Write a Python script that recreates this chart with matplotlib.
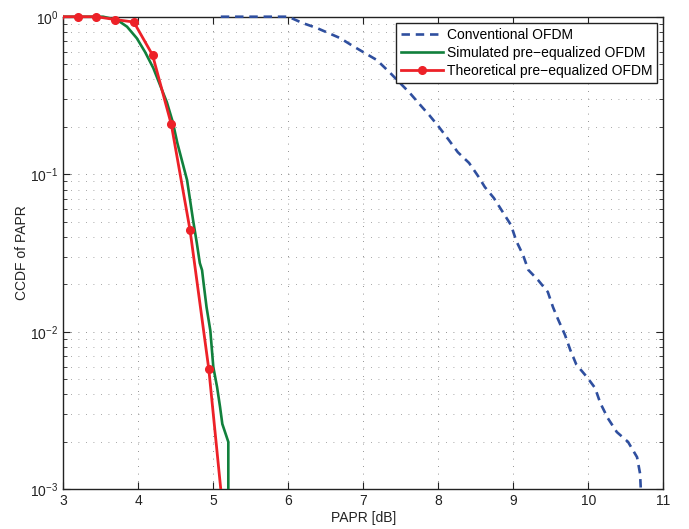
import matplotlib
matplotlib.use("Agg")
import matplotlib.pyplot as plt
from matplotlib.patches import Rectangle
from matplotlib.lines import Line2D
from matplotlib.ticker import LogLocator, NullFormatter, FixedLocator

plt.rcParams['font.family'] = ['Liberation Sans', 'DejaVu Sans']
plt.rcParams['mathtext.fontset'] = 'custom'
plt.rcParams['mathtext.rm'] = 'Liberation Sans'

# Conventional OFDM (dashed blue)
conv_x = [5.1, 6.0, 6.19, 6.38, 6.69, 6.86, 7.18, 7.36, 7.62, 7.76, 7.88, 8.0,
          8.14, 8.26, 8.41, 8.53, 8.62, 8.74, 8.86, 8.97, 9.04, 9.13, 9.20, 9.33,
          9.46, 9.53, 9.60, 9.69, 9.76, 9.84, 9.98, 10.09, 10.16, 10.26, 10.38,
          10.53, 10.65, 10.69, 10.70]
conv_y = [1.0, 1.0, 0.912, 0.848, 0.732, 0.652, 0.531, 0.439, 0.328, 0.275, 0.237,
          0.202, 0.165, 0.138, 0.118, 0.0974, 0.083, 0.0707, 0.0575, 0.0475,
          0.0377, 0.0307, 0.0247, 0.0213, 0.0179, 0.0143, 0.0119, 0.00953,
          0.00766, 0.0062, 0.00517, 0.0044, 0.00353, 0.00283, 0.00231, 0.002,
          0.0016, 0.00126, 0.001]

# Simulated pre-equalized OFDM (green)
sim_x = [3.0, 3.53, 3.72, 3.85, 3.98, 4.09, 4.20, 4.29, 4.38, 4.46, 4.52, 4.58,
         4.65, 4.69, 4.73, 4.78, 4.82, 4.85, 4.87, 4.91, 4.96, 5.0, 5.05, 5.09,
         5.12, 5.2, 5.2]
sim_y = [1.0, 1.0, 0.953, 0.864, 0.73, 0.597, 0.472, 0.368, 0.287, 0.214, 0.158,
         0.123, 0.0918, 0.0686, 0.0512, 0.0366, 0.0273, 0.0246, 0.0204, 0.0143,
         0.0102, 0.00597, 0.00446, 0.00333, 0.0026, 0.002, 0.001]

# Theoretical pre-equalized OFDM (red, markers)
theo_x = [2.94, 3.19, 3.44, 3.69, 3.94, 4.19, 4.44, 4.69, 4.94, 5.19]
theo_y = [1.0, 1.0, 1.0, 0.96, 0.925, 0.571, 0.207, 0.0441, 0.00578, 0.00037]

blue = '#2f4f9f'
green = '#11803c'
red = '#ed2128'

fig = plt.figure(figsize=(6.89, 5.29), dpi=100)
ax = fig.add_axes([0.0919, 0.075, 0.8708, 0.8934])

# clip region a little taller than the axes so marks on the top edge stay whole
clip = Rectangle((0, 0), 1, 1.03, transform=ax.transAxes, visible=False)
ax.add_patch(clip)

l1, = ax.plot(conv_x, conv_y, color=blue, lw=1.9, ls=(0, (3.2, 2.2)), zorder=3)
l2, = ax.plot(sim_x, sim_y, color=green, lw=1.9, zorder=3)
l3, = ax.plot(theo_x, theo_y, color=red, lw=2.0, marker='o', ms=5.5, zorder=3)
for ln in (l1, l2, l3):
    ln.set_clip_path(clip)

ax.set_yscale('log')
ax.set_xlim(3, 11)
ax.set_ylim(1e-3, 1)
ax.xaxis.set_major_locator(FixedLocator(range(3, 12)))
ax.yaxis.set_major_locator(LogLocator(base=10, numticks=10))
ax.yaxis.set_minor_locator(LogLocator(base=10, subs=range(2, 10), numticks=20))
ax.yaxis.set_minor_formatter(NullFormatter())

ax.tick_params(which='both', direction='in', top=True, right=True,
               labelsize=10, colors='#222222')
ax.tick_params(which='major', length=5, width=0.8)
ax.tick_params(which='minor', length=3, width=0.6)
for s in ax.spines.values():
    s.set_linewidth(1.0)
    s.set_color('#222222')

ax.grid(True, which='major', color='#707070', lw=0.6, ls=(0, (1, 8)))
ax.grid(True, which='minor', axis='y', color='#8a8a8a', lw=0.6, ls=(0, (1, 8)))
ax.set_axisbelow(True)

ax.set_xlabel('PAPR [dB]', fontsize=10, color='#222222', labelpad=2)
ax.set_ylabel('CCDF of PAPR', fontsize=10, color='#222222', labelpad=1)

handles = [
    Line2D([], [], color=blue, lw=1.9, ls=(0, (3.2, 2.2))),
    Line2D([], [], color=green, lw=1.9),
    Line2D([], [], color=red, lw=2.0, marker='o', ms=5.5),
]
labels = ['Conventional OFDM', 'Simulated pre\u2212equalized OFDM',
          'Theoretical pre\u2212equalized OFDM']
leg = ax.legend(handles, labels, loc='upper right', fontsize=10, fancybox=False,
                framealpha=1, edgecolor='#222222', borderaxespad=0.45,
                handlelength=3.0, handletextpad=0.3, labelspacing=0.3,
                borderpad=0.35)
leg.get_frame().set_linewidth(1.0)
leg.set_zorder(5)

fig.savefig('out.png', dpi=100)
